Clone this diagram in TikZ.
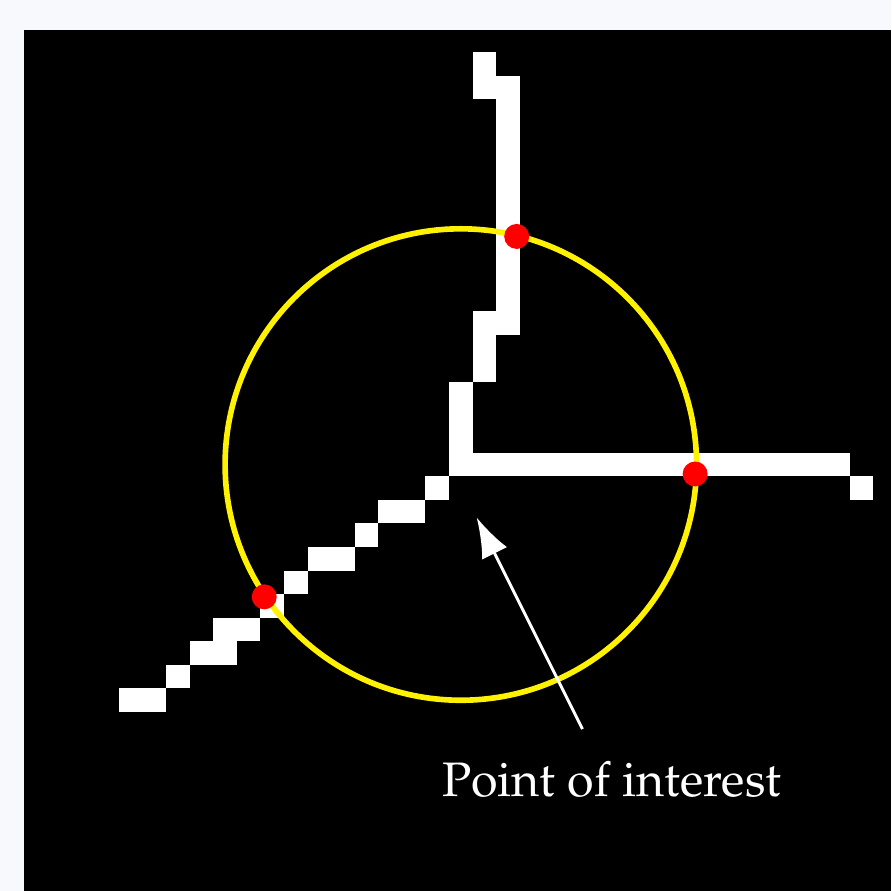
\documentclass[tikz,border=0pt]{standalone}
\usepackage[T1]{fontenc}
\usepackage{mathpazo}
\usetikzlibrary{arrows.meta}
\definecolor{pagebg}{RGB}{248,249,253}
\begin{document}
\begin{tikzpicture}[x=0.5cm, y=-0.5cm,
    pix/.style={fill=white},
    dot/.style={circle, fill=red, inner sep=0pt, minimum size=0.53cm},
    ring/.style={draw=yellow, line width=3.4pt}]
  % Canvas
  \useasboundingbox (0,0) rectangle (37.8,37.8);
  \fill[pagebg] (0,0) rectangle (37.8,37.8);
  \fill[black] (1.02,1.27) rectangle (37.8,37.8);

  % Pixels
  \begin{scope}[shift={(19.05,2.207)}]
    \foreach \ca/\cb/\ra/\rb in {1/1/0/1, 2/2/1/11, 1/1/11/13, 0/0/14/17,
        0/16/17/17, 17/17/18/18, -1/-1/18/18, -3/-2/19/19, -4/-4/20/20,
        -6/-5/21/21, -7/-7/22/22, -8/-8/23/23, -10/-9/24/24,
        -11/-10/25/25, -12/-12/26/26, -14/-13/27/27}
      \fill[pix] (\ca,\ra) rectangle (\cb+1,\rb+1);
    \coordinate (ctr) at (0.5,17.5);
  \end{scope}

  % Circle
  \draw[ring] (ctr) circle (10);

  % Nodes
  \node[dot] (P1) at (21.92,10.03) {};
  \node[dot] (P2) at (29.49,20.11) {};
  \node[dot] (P3) at (11.21,25.32) {};

  % Label
  \node[text=white, anchor=base, inner sep=0pt, font=\fontsize{29.2}{35}\selectfont]
    (poi) at (25.95,33.80) {Point of interest};
  \coordinate (tail) at (24.71,30.93);
  \coordinate (tip) at (20.22,21.95);
  \draw[white, line width=1.8pt, -{Latex[length=0.85cm, width=0.59cm]}] (tail) -- (tip);
\end{tikzpicture}
\end{document}
